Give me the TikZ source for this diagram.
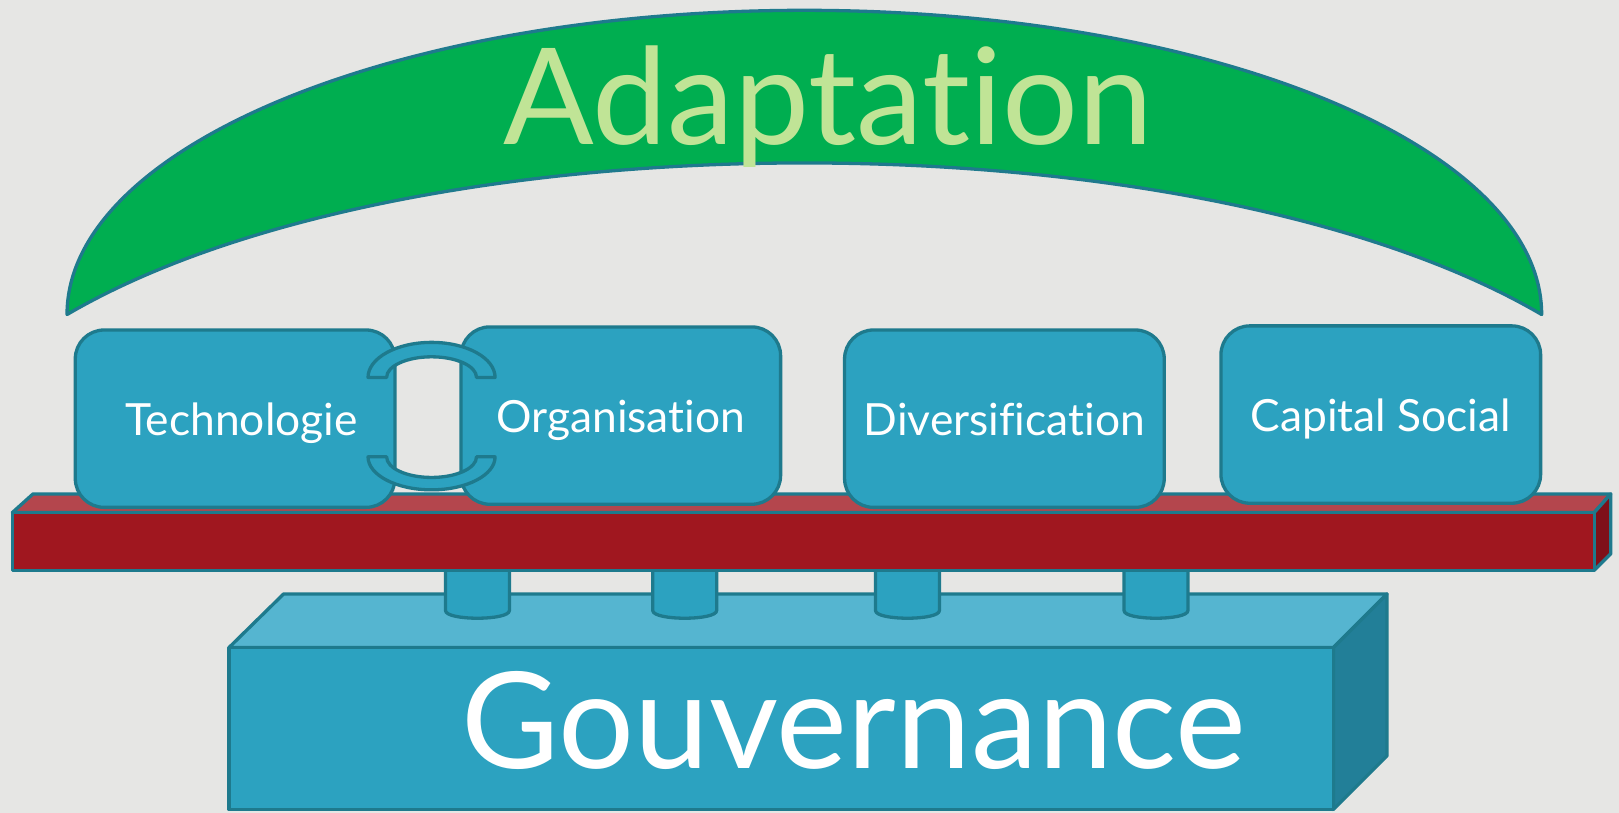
\documentclass[tikz,border=0pt]{standalone}
\usepackage{fontspec}
\setmainfont{Lato}[Ligatures={NoCommon}]

\definecolor{bgGray}{RGB}{230,230,228}
\definecolor{tealEdge}{RGB}{30,122,141}
\definecolor{archGreen}{RGB}{0,174,80}
\definecolor{lightGreen}{RGB}{192,228,150}
\definecolor{boxBlue}{RGB}{44,162,192}
\definecolor{boxTop}{RGB}{85,181,208}
\definecolor{boxSide}{RGB}{34,127,152}
\definecolor{barRed}{RGB}{160,23,31}
\definecolor{barTop}{RGB}{180,70,77}
\definecolor{barSide}{RGB}{127,16,25}

\begin{document}
\begin{tikzpicture}[
    x=0.5pt, y=-0.5pt,
    edge/.style={draw=tealEdge, line width=1.6pt, line join=round},
    pillar/.style={edge, fill=boxBlue, rounded corners=14pt, minimum width=155pt,
                   minimum height=86pt, text=white, text height=20pt, text depth=4pt,
                   font=\fontsize{21.5}{25}\selectfont},
    peg/.style={edge, fill=boxBlue},
    bigtext/.style={font=\fontsize{65}{70}\selectfont, anchor=base}
]

% Background
\fill[bgGray] (0,0) rectangle (1570,788);
\useasboundingbox (0,0) rectangle (1570,788);

% Adaptation arch
\draw[edge, fill=archGreen] (65,305) .. controls (65,142) and (385,10) .. (780,10)
    .. controls (1175,10) and (1495,142) .. (1495,305)
    .. controls (1160,109) and (400,109) .. (65,305) -- cycle;
\node[bigtext, text=lightGreen] (adapt) at (803,140) {Adaptation};

% Gouvernance block
\draw[edge, fill=boxTop] (222,628) -- (275,576) -- (1345,576) -- (1293,628) -- cycle;
\draw[edge, fill=boxSide] (1293,628) -- (1345,576) -- (1345,733) -- (1293,785) -- cycle;
\draw[edge, fill=boxBlue] (222,628) rectangle (1293,785);
\node[bigtext, text=white] (gouv) at (828,745) {Gouvernance};

% Pegs under the bar
\foreach \cx in {463,664,880,1121}
    \draw[peg] (\cx-31,540) -- (\cx-31,592) .. controls (\cx-31,602) and (\cx+31,602)
        .. (\cx+31,592) -- (\cx+31,540);

% Red bar
\draw[edge, fill=barTop] (12,497) -- (32,479) -- (1562,479) -- (1546,497) -- cycle;
\draw[edge, fill=barSide] (1546,497) -- (1562,479) -- (1562,537) -- (1546,553) -- cycle;
\draw[edge, fill=barRed] (12,497) rectangle (1546,553);

% Pillars
\node[pillar] (techno) at (228,406) {\hspace{6pt}Technologie};
\node[pillar] (orga) at (602,403) {Organisation};
\node[pillar] (diversif) at (974,406) {Diversification};
\node[pillar] (capital) at (1339,402) {Capital Social};

% Chain link between Technologie and Organisation
\draw[peg] (356.9,366) arc[start angle=180, end angle=360, x radius=61.6, y radius=34]
    -- (462.1,366) arc[start angle=360, end angle=180, x radius=43.6, y radius=20] -- cycle;
\draw[peg] (356.9,443) arc[start angle=180, end angle=0, x radius=61.6, y radius=32]
    -- (462.1,443) arc[start angle=0, end angle=180, x radius=43.6, y radius=20] -- cycle;

\end{tikzpicture}
\end{document}
